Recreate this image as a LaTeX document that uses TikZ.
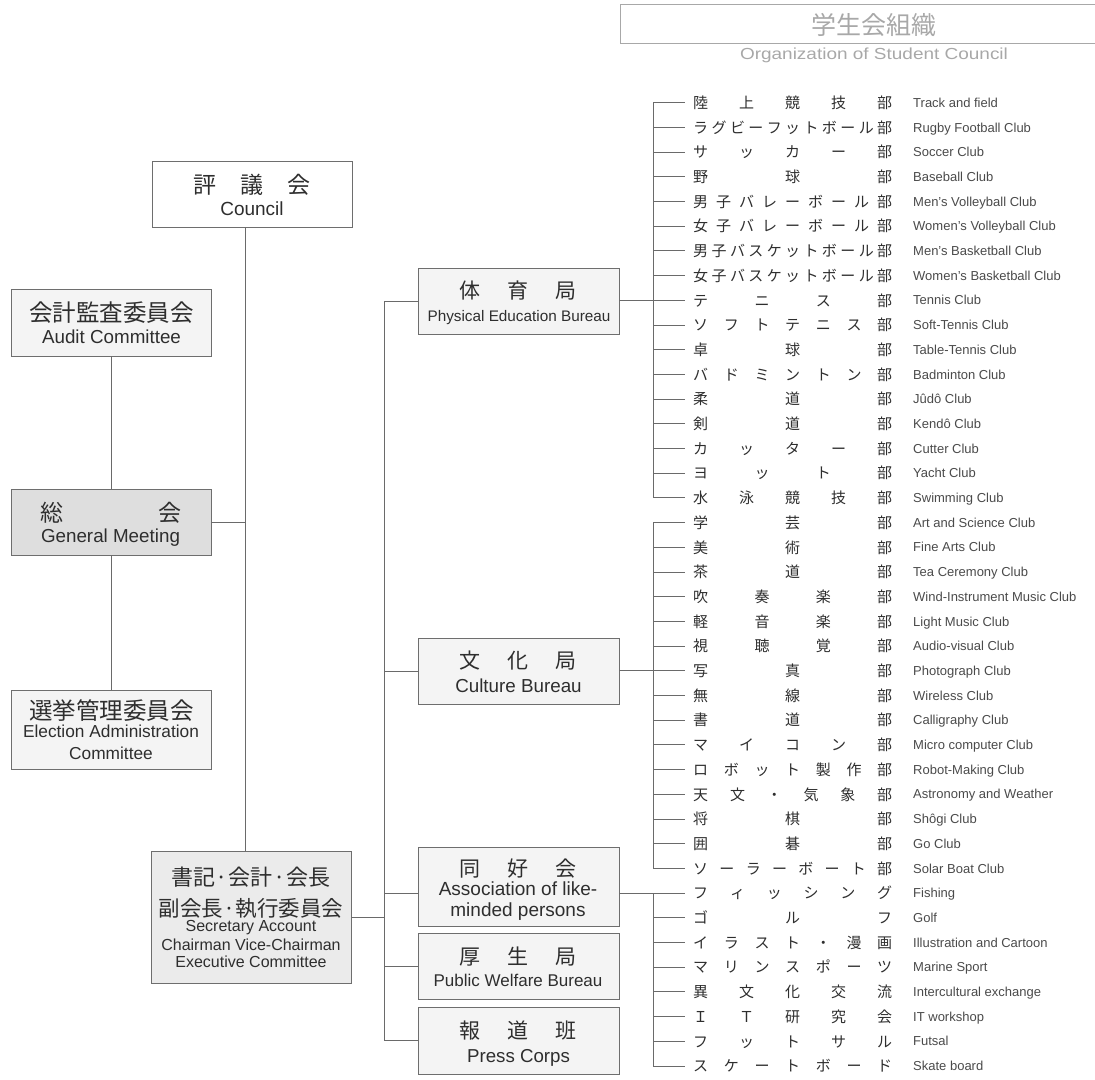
\documentclass[tikz,border=0pt]{standalone}
\usepackage{fontspec}
\usepackage{graphicx}
\setmainfont{Liberation Sans}
\newfontfamily\jp{Noto Sans CJK JP}
\definecolor{boxc}{HTML}{6E6E6E}
\definecolor{linec}{HTML}{6A6A6A}
\definecolor{txtc}{HTML}{2E2E2E}
\definecolor{enc}{HTML}{4A4A4A}
\definecolor{titlec}{HTML}{A8A8A8}
\definecolor{fillA}{HTML}{F4F4F4}
\definecolor{fillG}{HTML}{DEDEDE}
\definecolor{fillS}{HTML}{EBEBEB}
\def\jsfirst#1{#1\jsloop}
\def\jsloop#1{\ifx\relax#1\else\hfill#1\expandafter\jsloop\fi}
\newcommand\jspread[2]{\makebox[#1][s]{\expandafter\jsfirst#2\relax}}
\newcommand\fs[1]{\fontsize{#1}{#1}\selectfont}
\begin{document}
\begin{tikzpicture}[x=1pt,y=-1pt,
  box/.style={draw=boxc, line width=0.9pt, inner sep=0pt, outer sep=0pt},
  conn/.style={draw=linec, line width=0.9pt},
  tx/.style={inner sep=0pt, anchor=base, text=txtc},
  jtx/.style={tx, font=\jp\fs{#1}},
  etx/.style={tx, font=\fs{#1}},
  clubjp/.style={inner xsep=8pt, inner ysep=0pt, anchor=base west, text=txtc, font=\jp\fs{15}},
  cluben/.style={inner sep=0pt, anchor=base west, text=enc, font=\fs{13}},
  frame/.style={draw=titlec, line width=1pt}
]
\useasboundingbox (0,0) rectangle (1095,1079);

% title
\draw[frame] (1096,4) -- (620,4) -- (620,43) -- (1096,43);
\node[tx, text=titlec, font=\jp\fs{25}] (title) at (874,34.5) {学生会組織};
\node[tx, text=titlec, font=\fs{16}] (subtitle) at (874,59) {\scalebox{1.186}[1]{Organization of Student Council}};

% left boxes
\node[box, fill=white, minimum width=200pt, minimum height=66pt] (council) at (252,194) {};
\node[jtx=23] (council-j) at (252,193.7) {\jspread{117pt}{評議会}};
\node[etx=19] (council-e) at (252,215.5) {Council};

\node[box, fill=fillA, minimum width=200pt, minimum height=67pt] (audit) at (111,322.5) {};
\node[jtx=23.5] (audit-j) at (111.5,321.4) {会計監査委員会};
\node[etx=18.8] (audit-e) at (111.5,343.3) {Audit Committee};

\node[box, fill=fillG, minimum width=200pt, minimum height=66pt] (general) at (111,522) {};
\node[jtx=23] (general-j) at (110.5,521.2) {\jspread{141pt}{総会}};
\node[etx=18.8] (general-e) at (110.5,542.7) {General Meeting};

\node[box, fill=fillA, minimum width=200pt, minimum height=79pt] (election) at (111,729.5) {};
\node[jtx=23.5] (election-j) at (111.5,719) {選挙管理委員会};
\node[etx=17.3] (election-e1) at (111,737.7) {Election Administration};
\node[etx=17.3] (election-e2) at (111,759) {Committee};

\node[box, fill=fillS, minimum width=200pt, minimum height=132pt] (sec) at (251,917) {};
\node[jtx=22] (sec-j1) at (251,885.5) {\makebox[160pt][s]{書記\hfill ·\hfill 会計\hfill ·\hfill 会長}};
\node[jtx=21.5] (sec-j2) at (251,916.7) {副会長·執行委員会};
\node[etx=16] (sec-e1) at (251,931.7) {Secretary Account};
\node[etx=16] (sec-e2) at (251,950.7) {Chairman Vice-Chairman};
\node[etx=16] (sec-e3) at (251,967.7) {Executive Committee};

% bureaus
\node[box, fill=fillA, minimum width=201pt, minimum height=66pt] (phys) at (518.5,301) {};
\node[jtx=21] (phys-j) at (518,298.5) {\jspread{117pt}{体育局}};
\node[etx=15.3] (phys-e) at (519,321.7) {Physical Education Bureau};

\node[box, fill=fillA, minimum width=201pt, minimum height=66pt] (cult) at (518.5,671) {};
\node[jtx=21] (cult-j) at (518,668.8) {\jspread{117pt}{文化局}};
\node[etx=18.8] (cult-e) at (518.5,692.7) {Culture Bureau};

\node[box, fill=fillA, minimum width=201pt, minimum height=79pt] (assoc) at (518.5,886.5) {};
\node[jtx=21] (assoc-j) at (518,876.8) {\jspread{117pt}{同好会}};
\node[etx=19] (assoc-e1) at (518,895) {Association of like-};
\node[etx=19] (assoc-e2) at (518,916) {minded persons};

\node[box, fill=fillA, minimum width=201pt, minimum height=66pt] (pub) at (518.5,966) {};
\node[jtx=21] (pub-j) at (518,964.7) {\jspread{117pt}{厚生局}};
\node[etx=17] (pub-e) at (518,986.7) {Public Welfare Bureau};

\node[box, fill=fillA, minimum width=201pt, minimum height=67pt] (press) at (518.5,1040.5) {};
\node[jtx=21] (press-j) at (518,1038.5) {\jspread{117pt}{報道班}};
\node[etx=18.7] (press-e) at (518.5,1062) {Press Corps};

% left connectors
\coordinate (mx) at (245,0);
\coordinate (bx) at (384.5,0);
\draw[conn] (council.south -| mx) -- (sec.north -| mx);
\draw[conn] (audit.south) -- (general.north);
\draw[conn] (general.south) -- (election.north);
\draw[conn] (general.east) -- (general.east -| mx);
\draw[conn] (sec.east) -- (sec.east -| bx);
\draw[conn] (phys.west -| bx) -- (press.west -| bx);
\draw[conn] (phys.west) -- (phys.west -| bx);
\draw[conn] (cult.west) -- (cult.west -| bx);
\draw[conn] (pub.west) -- (pub.west -| bx);
\draw[conn] (press.west) -- (press.west -| bx);

% clubs
\foreach \i/\j/\e in {
0/陸上競技部/Track and field,
1/ラグビーフットボール部/Rugby Football Club,
2/サッカー部/Soccer Club,
3/野球部/Baseball Club,
4/男子バレーボール部/Men’s Volleyball Club,
5/女子バレーボール部/Women’s Volleyball Club,
6/男子バスケットボール部/Men’s Basketball Club,
7/女子バスケットボール部/Women’s Basketball Club,
8/テニス部/Tennis Club,
9/ソフトテニス部/Soft-Tennis Club,
10/卓球部/Table-Tennis Club,
11/バドミントン部/Badminton Club,
12/柔道部/Jûdô Club,
13/剣道部/Kendô Club,
14/カッター部/Cutter Club,
15/ヨット部/Yacht Club,
16/水泳競技部/Swimming Club,
17/学芸部/Art and Science Club,
18/美術部/Fine Arts Club,
19/茶道部/Tea Ceremony Club,
20/吹奏楽部/Wind-Instrument Music Club,
21/軽音楽部/Light Music Club,
22/視聴覚部/Audio-visual Club,
23/写真部/Photograph Club,
24/無線部/Wireless Club,
25/書道部/Calligraphy Club,
26/マイコン部/Micro computer Club,
27/ロボット製作部/Robot-Making Club,
28/天文・気象部/Astronomy and Weather,
29/将棋部/Shôgi Club,
30/囲碁部/Go Club,
31/ソーラーボート部/Solar Boat Club,
32/フィッシング/Fishing,
33/ゴルフ/Golf,
34/イラスト・漫画/Illustration and Cartoon,
35/マリンスポーツ/Marine Sport,
36/異文化交流/Intercultural exchange,
37/ＩＴ研究会/IT workshop,
38/フットサル/Futsal,
39/スケートボード/Skate board}{
  \pgfmathsetmacro\yy{102.7+24.7*\i}
  \coordinate (t\i) at (653,\yy);
  \node[clubjp] (j\i) at (685,\yy+5.7) {\jspread{199pt}{\j}};
  \node[cluben] (e\i) at (913,\yy+4.6) {\e};
  \draw[conn] (t\i) -- (t\i -| j\i.west);
}
\draw[conn] (t0) -- (t16);
\draw[conn] (t17) -- (t31);
\draw[conn] (t32) -- (t39);
\draw[conn] (phys.east |- t8) -- (t8);
\draw[conn] (cult.east |- t23) -- (t23);
\draw[conn] (assoc.east |- t32) -- (t32);
\draw[conn] (assoc.west |- t32) -- (bx |- t32);
\end{tikzpicture}
\end{document}
